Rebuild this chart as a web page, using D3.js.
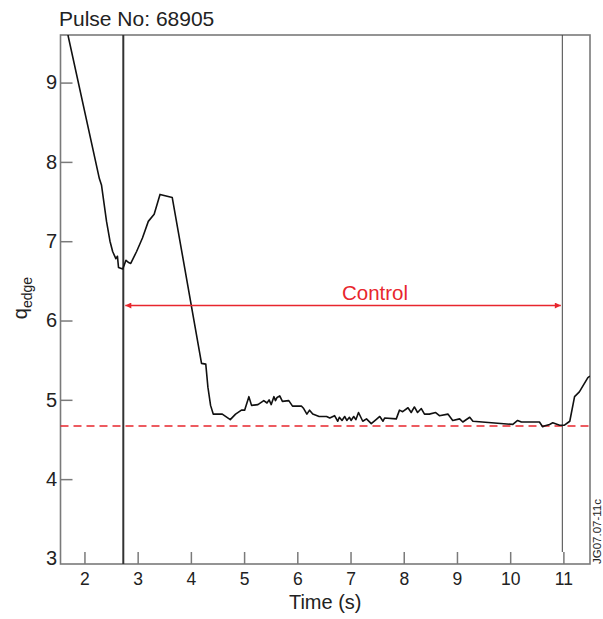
<!DOCTYPE html>
<html>
<head>
<meta charset="utf-8">
<script src="https://cdn.jsdelivr.net/npm/d3@7"></script>
<style>
body { margin: 0; background: #fff; }
svg text { font-family: "Liberation Sans", Arial, Helvetica, sans-serif; fill: #222; }
.axis path { display: none; }
.axis line { stroke: #7a7a7a; stroke-width: 1.5; }
</style>
</head>
<body>
<script>
var w = 603;
var h = 619;
var margin = {"left": 60.5, "right": 13, "top": 35, "bottom": 55};

// q_edge trace, pulse 68905
var time = [1.69, 2.28, 2.32, 2.415, 2.48, 2.53, 2.59, 2.62, 2.64, 2.72, 2.78, 2.83, 2.87, 2.98, 3.09, 3.20, 3.31, 3.42, 3.65,
            4.20, 4.28, 4.32, 4.37, 4.42, 4.59, 4.74, 4.84, 4.95, 5.01, 5.09, 5.14, 5.26, 5.37, 5.43, 5.47, 5.51, 5.56, 5.59, 5.62,
            5.67, 5.72, 5.84, 5.91, 6.08, 6.12, 6.18, 6.23, 6.29, 6.41, 6.55, 6.61, 6.70, 6.76, 6.79, 6.84, 6.89, 6.93, 6.98, 7.01,
            7.06, 7.10, 7.15, 7.23, 7.30, 7.39, 7.48, 7.55, 7.61, 7.64, 7.86, 7.92, 7.98, 8.08, 8.14, 8.20, 8.26, 8.33, 8.39, 8.48,
            8.60, 8.67, 8.83, 8.92, 9.05, 9.11, 9.24, 9.30, 10.05, 10.14, 10.21, 10.55, 10.61, 10.64, 10.74, 10.80, 10.93, 11.02,
            11.12, 11.21, 11.30, 11.46, 11.50];
var qedge = [9.60, 7.79, 7.71, 7.25, 7.00, 6.87, 6.78, 6.81, 6.67, 6.65, 6.76, 6.73, 6.72, 6.87, 7.04, 7.25, 7.34, 7.59, 7.55,
             5.46, 5.45, 5.16, 4.93, 4.82, 4.82, 4.75, 4.82, 4.87, 4.87, 5.04, 4.93, 4.94, 4.99, 4.96, 5.00, 4.94, 5.04, 4.99, 5.03,
             5.05, 4.98, 4.99, 4.92, 4.92, 4.89, 4.82, 4.87, 4.82, 4.79, 4.79, 4.77, 4.80, 4.73, 4.78, 4.74, 4.79, 4.74, 4.78, 4.74,
             4.79, 4.75, 4.84, 4.73, 4.76, 4.70, 4.75, 4.79, 4.73, 4.77, 4.76, 4.87, 4.85, 4.90, 4.84, 4.91, 4.84, 4.89, 4.82, 4.82,
             4.84, 4.80, 4.82, 4.74, 4.76, 4.72, 4.78, 4.73, 4.69, 4.74, 4.72, 4.72, 4.66, 4.67, 4.69, 4.71, 4.68, 4.68,
             4.73, 5.04, 5.10, 5.28, 5.30];

var xTicks = [2, 3, 4, 5, 6, 7, 8, 9, 10, 11];
var yTicks = [3, 4, 5, 6, 7, 8, 9];
var controlStart = 2.73;
var controlEnd = 10.98;
var targetQ = 4.67;

var xScale = d3.scaleLinear()
                .domain([1.55, 11.5])
                .range([margin.left, w - margin.right]);

var yScale = d3.scaleLinear()
                .domain([2.93, 9.6])
                .range([h - margin.bottom, margin.top]);

var svg = d3.select("body")
            .append("svg")
            .attr("width", w)
            .attr("height", h);

svg.append("defs")
    .append("clipPath")
    .attr("id", "plot-clip")
    .append("rect")
    .attr("x", margin.left)
    .attr("y", margin.top)
    .attr("width", w - margin.right - margin.left)
    .attr("height", h - margin.bottom - margin.top);

var marker = svg.select("defs")
                .append("marker")
                .attr("id", "arrow")
                .attr("viewBox", "0 0 10 10")
                .attr("refX", 10)
                .attr("refY", 5)
                .attr("markerWidth", 7)
                .attr("markerHeight", 6)
                .attr("markerUnits", "userSpaceOnUse")
                .attr("orient", "auto-start-reverse");
marker.append("path")
    .attr("d", "M0,0L10,5L0,10z")
    .attr("fill", "#e8262d");

// axes, ticks pointing inwards
var xAxis = d3.axisBottom(xScale)
                .tickValues(xTicks)
                .tickSize(-12)
                .tickPadding(8.5)
                .tickFormat(d3.format("d"));

var yAxis = d3.axisLeft(yScale)
                .tickValues(yTicks)
                .tickSize(-12)
                .tickPadding(3.5)
                .tickFormat(d3.format("d"));

svg.append("g")
    .classed("axis", true)
    .attr("id", "x-axis")
    .attr("transform", "translate(0," + (h - margin.bottom) + ")")
    .call(xAxis)
    .selectAll("text")
    .attr("font-size", 17.5)
    .attr("fill", "#222");

svg.append("g")
    .classed("axis", true)
    .attr("id", "y-axis")
    .attr("transform", "translate(" + margin.left + ",0)")
    .call(yAxis)
    .selectAll("text")
    .attr("font-size", 20)
    .attr("fill", "#222");

svg.selectAll("#y-axis .tick")
    .filter(function(d){ return d === 3; })
    .select("line")
    .remove();

svg.selectAll(".axis text").style("font-family", "'Liberation Sans', Arial, sans-serif");

// frame
svg.append("rect")
    .attr("x", margin.left)
    .attr("y", margin.top)
    .attr("width", w - margin.right - margin.left)
    .attr("height", h - margin.bottom - margin.top)
    .attr("fill", "none")
    .attr("stroke", "#7a7a7a")
    .attr("stroke-width", 1.6);

// target level
svg.append("line")
    .attr("x1", margin.left)
    .attr("x2", w - margin.right)
    .attr("y1", yScale(targetQ))
    .attr("y2", yScale(targetQ))
    .attr("stroke", "#e8262d")
    .attr("stroke-width", 1.6)
    .attr("stroke-dasharray", "8,5");

// control window markers
svg.append("line")
    .attr("x1", xScale(controlStart))
    .attr("x2", xScale(controlStart))
    .attr("y1", margin.top)
    .attr("y2", h - margin.bottom)
    .attr("stroke", "#333")
    .attr("stroke-width", 2);

svg.append("line")
    .attr("x1", xScale(controlEnd))
    .attr("x2", xScale(controlEnd))
    .attr("y1", margin.top)
    .attr("y2", h - margin.bottom - 12)
    .attr("stroke", "#444")
    .attr("stroke-width", 1);

var line = d3.line()
                .x(function(d){ return xScale(d[0]); })
                .y(function(d){ return yScale(d[1]); });

svg.append("path")
    .datum(d3.zip(time, qedge))
    .attr("clip-path", "url(#plot-clip)")
    .attr("d", line)
    .attr("fill", "none")
    .attr("stroke", "#111")
    .attr("stroke-width", 1.6)
    .attr("stroke-linejoin", "round");

// control arrow
svg.append("line")
    .attr("x1", xScale(controlStart) + 2)
    .attr("x2", xScale(controlEnd) - 1.5)
    .attr("y1", 305.5)
    .attr("y2", 305.5)
    .attr("stroke", "#e8262d")
    .attr("stroke-width", 1.4)
    .attr("marker-start", "url(#arrow)")
    .attr("marker-end", "url(#arrow)");

svg.append("text")
    .attr("x", 375)
    .attr("y", 300)
    .attr("text-anchor", "middle")
    .attr("font-size", 20.5)
    .style("fill", "#e8262d")
    .text("Control");

// labels
svg.append("text")
    .attr("x", 59)
    .attr("y", 26)
    .attr("font-size", 21)
    .text("Pulse No: 68905");

svg.append("text")
    .attr("x", (margin.left + w - margin.right) / 2)
    .attr("y", 609)
    .attr("text-anchor", "middle")
    .attr("font-size", 20)
    .text("Time (s)");

var yLabel = svg.append("text")
                .attr("transform", "translate(27,298) rotate(-90)")
                .attr("text-anchor", "middle")
                .attr("font-size", 20);
yLabel.append("tspan").text("q");
yLabel.append("tspan")
    .attr("font-size", 14)
    .attr("dy", 5)
    .text("edge");

svg.append("text")
    .attr("transform", "translate(601,564) rotate(-90)")
    .attr("font-size", 11.5)
    .text("JG07.07-11c");
</script>
</body>
</html>
